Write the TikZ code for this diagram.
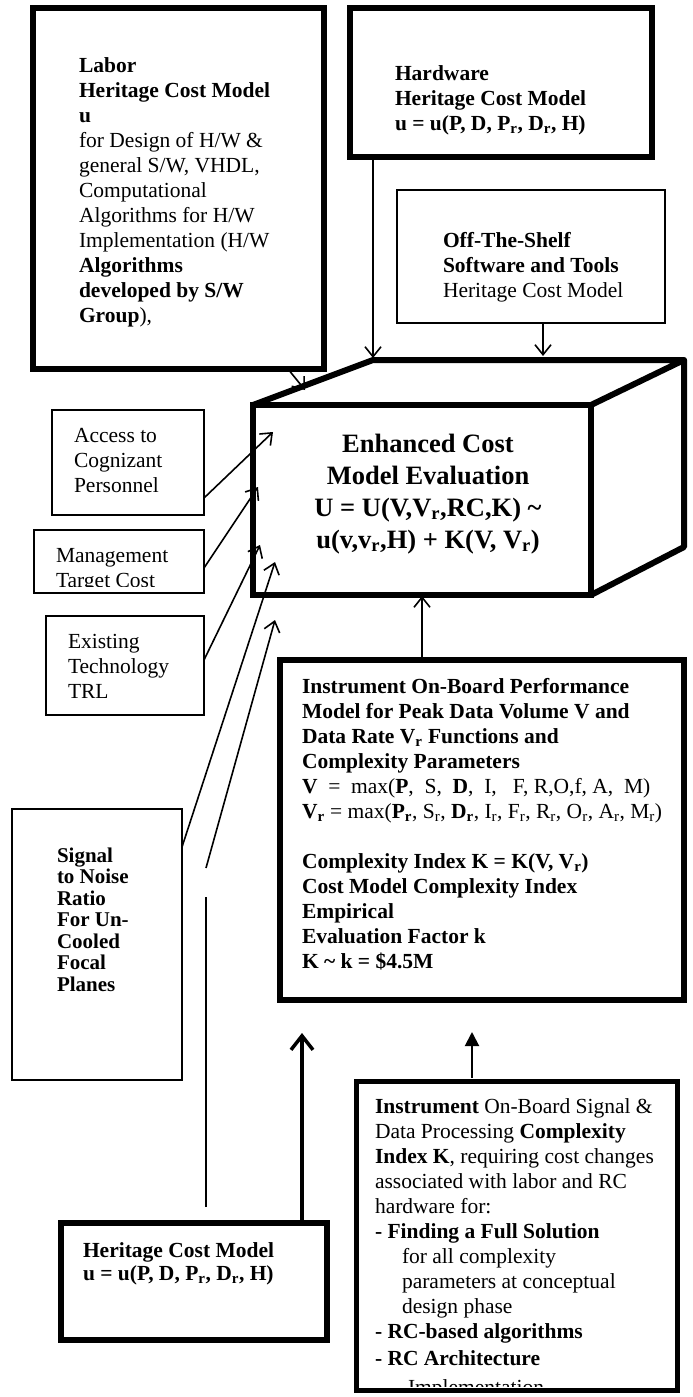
\documentclass[tikz,border=0pt]{standalone}
\usepackage{fontspec}
\setmainfont{Liberation Serif}
\usetikzlibrary{arrows.meta}
\newcommand\myr{\textsubscript{r}}
\newcommand\fsa{\fontsize{21.5}{25}\selectfont}
\newcommand\fsb{\fontsize{26.5}{32}\selectfont}
\newcommand\fsc{\fontsize{21}{21.5}\selectfont}
\newcommand\fsd{\fontsize{21.5}{23}\selectfont}
\begin{document}
\begin{tikzpicture}[x=1pt,y=-1pt,
  thickbox/.style={draw, line width=6pt, inner sep=0pt, outer sep=0pt, anchor=north west},
  thinbox/.style={draw, line width=1.8pt, inner sep=0pt, outer sep=0pt, anchor=north west},
  txt/.style={anchor=north west, inner sep=0pt, outer sep=0pt, align=left, font=\fsa},
  arr/.style={line width=1.6pt, -{Straight Barb[length=10pt,width=16pt]}},
  bigarr/.style={line width=3.5pt, -{Straight Barb[length=14pt,width=22pt]}},
  triarr/.style={line width=2pt, -{Triangle[length=14pt,width=14pt]}}]
\useasboundingbox (0,0) rectangle (693,1397);

% boxes
\node[thickbox, minimum width=291pt, minimum height=361pt] (labor) at (33,8) {};
\node[thickbox, minimum width=302pt, minimum height=149pt] (hw) at (350,8) {};
\node[thinbox, minimum width=268pt, minimum height=133pt] (ots) at (397,190) {};
\node[thinbox, minimum width=152pt, minimum height=105pt] (acc) at (52,410) {};
\node[thinbox, minimum width=170pt, minimum height=63pt] (mgmt) at (34,530) {};
\node[thinbox, minimum width=158pt, minimum height=99pt] (ext) at (46,616) {};
\node[thinbox, minimum width=170pt, minimum height=271pt] (sig) at (12,809) {};
\node[thickbox, minimum width=404pt, minimum height=340pt] (perf) at (280,660) {};
\node[thickbox, minimum width=266pt, minimum height=117pt] (her) at (61,1223) {};
\node[thickbox, line width=5pt, minimum width=321pt, minimum height=309pt] (rc) at (356,1081) {};

% cube
\node[thickbox, minimum width=338pt, minimum height=190pt] (cube) at (253,405) {};
\coordinate (cbl) at (373,360);
\coordinate (cbr) at (684,360);
\coordinate (cbb) at (684,547);
\draw[line width=6pt, line join=round] (cube.north west) -- (cbl) -- (cbr) -- (cube.north east);
\draw[line width=6pt, line join=round] (cbr) -- (cbb) -- (cube.south east);

% texts
\node[txt] (laborT) at (79,54.5) {\strut\textbf{Labor}\\\textbf{Heritage Cost Model}\\\textbf{u}\\for Design of H/W \&\\general S/W, VHDL,\\Computational\\Algorithms for H/W\\Implementation (H/W\\\textbf{Algorithms}\\\textbf{developed by S/W}\\\textbf{Group}),};
\node[txt] (hwT) at (395,62.5) {\strut\textbf{Hardware}\\\textbf{Heritage Cost Model}\\\textbf{u = u(P, D, P\myr, D\myr, H)}};
\node[txt] (otsT) at (443,229.5) {\strut\textbf{Off-The-Shelf}\\\textbf{Software and Tools}\\Heritage Cost Model};
\node[anchor=north, inner sep=0pt, align=center, font=\fsb\bfseries] (cubeT) at (428,429.6) {\strut Enhanced Cost\\Model Evaluation\\U = U(V,V\myr,RC,K) \textasciitilde\\u(v,v\myr,H) + K(V, V\myr)};
\node[txt] (accT) at (74,424.5) {\strut Access to\\Cognizant\\Personnel};
\begin{scope}
\clip (36,532) rectangle (202,586);
\node[txt] (mgmtT) at (56,544.5) {\strut Management\\Target Cost};
\end{scope}
\node[txt] (extT) at (68,630.5) {\strut Existing\\Technology\\TRL};
\node[txt, font=\fsc\bfseries] (sigT) at (57,847) {\strut Signal\\to Noise\\Ratio\\For Un-\\Cooled\\Focal\\Planes};
\node[txt] (perfT) at (302,675.5) {\strut\textbf{Instrument On-Board Performance}\\\textbf{Model for Peak Data Volume V and}\\\textbf{Data Rate V\myr\ Functions and}\\\textbf{Complexity Parameters}\\\textbf{V}\ \ =\ \ max(\textbf{P},\ \ S,\ \ \textbf{D},\ \ I,\ \ \ F, R,O,f, A,\ \ M)\\\textbf{V\myr} = max(\textbf{P\myr}, S\myr, \textbf{D\myr}, I\myr, F\myr, R\myr, O\myr, A\myr, M\myr)\\[25pt]\textbf{Complexity Index K = K(V, V\myr)}\\\textbf{Cost Model Complexity Index}\\\textbf{Empirical}\\\textbf{Evaluation Factor k}\\\textbf{K \textasciitilde\ k = \$4.5M}};
\node[txt, font=\fsd\bfseries] (herT) at (83,1240.9) {\strut Heritage Cost Model\\u = u(P, D, P\myr, D\myr, H)};
\begin{scope}
\clip (359,1084) rectangle (674,1386);
\node[txt] (rcT) at (375,1095.5) {\strut\textbf{Instrument} On-Board Signal \&\\Data Processing \textbf{Complexity}\\\textbf{Index K}, requiring cost changes\\associated with labor and RC\\hardware for:\\\textbf{- Finding a Full Solution}\\\hspace*{27pt}for all complexity\\\hspace*{27pt}parameters at conceptual\\\hspace*{27pt}design phase\\\textbf{- RC-based algorithms}\\[2pt]\textbf{- RC Architecture}\\[4pt]\hspace*{33pt}Implementation};
\end{scope}

% connectors
\coordinate (hwS) at (373,157);   \coordinate (hwE) at (373,358);
\coordinate (otsS) at (543,323);  \coordinate (otsE) at (543,356);
\coordinate (labS) at (288,369);  \coordinate (labE) at (305,390);
\coordinate (accS) at (204,498);  \coordinate (accE) at (273,432);
\coordinate (mgS) at (204,568);   \coordinate (mgE) at (258,487);
\coordinate (exS) at (204,660);   \coordinate (exE) at (260,545);
\coordinate (sgS) at (182,847);   \coordinate (sgE) at (275,562);
\coordinate (hrA) at (206,1207);  \coordinate (hrB) at (206,897);
\coordinate (hrC) at (206,868);   \coordinate (hrE) at (275,620);
\coordinate (pfS) at (422,657);   \coordinate (pfE) at (422,596);
\coordinate (hbS) at (302,1220);  \coordinate (hbE) at (302,1033);
\coordinate (rcS) at (472,1078);  \coordinate (rcE) at (472,1032);

\draw[arr] (hwS) -- (hwE);
\draw[arr] (otsS) -- (otsE);
\draw[arr] (labS) -- (labE);
\draw[arr] (accS) -- (accE);
\draw[arr] (mgS) -- (mgE);
\draw[arr] (exS) -- (exE);
\draw[arr] (sgS) -- (sgE);
\draw[line width=1.6pt] (hrA) -- (hrB);
\draw[arr] (hrC) -- (hrE);
\draw[arr] (pfS) -- (pfE);
\draw[bigarr] (hbS) -- (hbE);
\draw[triarr] (rcS) -- (rcE);
\end{tikzpicture}
\end{document}
